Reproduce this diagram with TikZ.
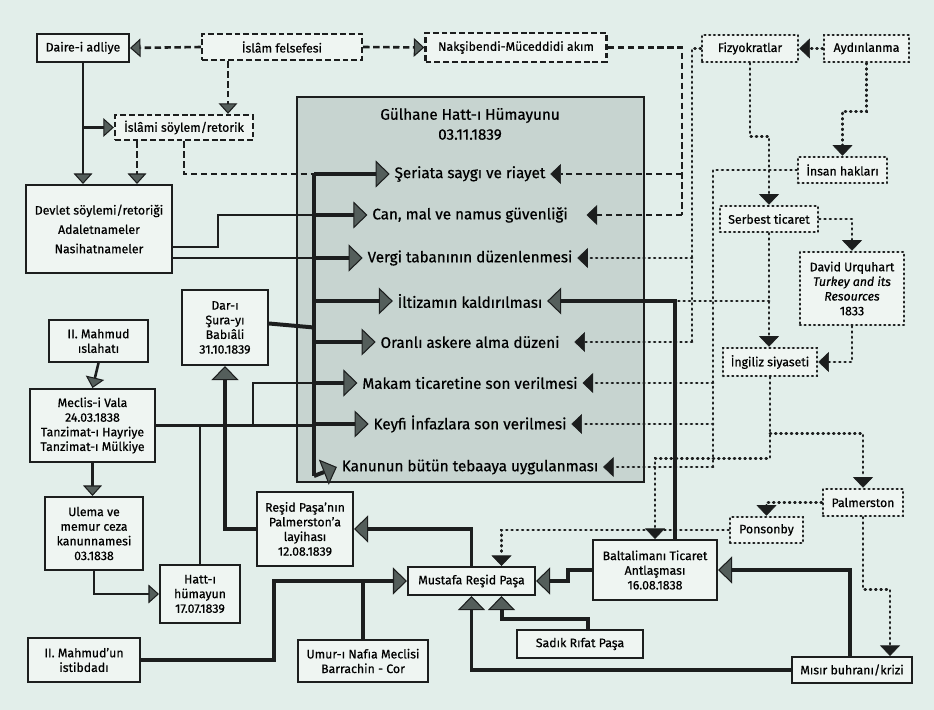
\documentclass[tikz,border=0pt]{standalone}
\usepackage{fontspec}
\setmainfont{Fira Sans}[FakeBold=0.6]
\usetikzlibrary{arrows.meta}

\definecolor{pagebg}{RGB}{226,238,234}
\definecolor{boxbg}{RGB}{239,245,242}
\definecolor{hattbg}{RGB}{199,212,208}
\definecolor{tipgray}{RGB}{84,94,91}
\definecolor{ink}{RGB}{28,30,30}

\newdimen\pxu \pxu=0.03cm

\tikzset{
    box/.style={draw=ink, line width=1.7pt, fill=boxbg, align=center, inner sep=1pt,
        font=\fontsize{10.5}{12.5}\selectfont},
    dashbox/.style={box, line width=2pt, dash pattern=on 5pt off 2.5pt},
    dotbox/.style={box, line cap=round, line width=2.2pt, dash pattern=on 0.7pt off 3.3pt},
    madde/.style={font=\fontsize{13}{15}\selectfont, inner xsep=4pt, inner ysep=1pt},
    strong/.style={draw=ink, line width=3.4pt},
    link/.style={draw=ink, line width=2.2pt},
    dashlink/.style={draw=ink, line width=2.2pt, dash pattern=on 5.5pt off 3pt},
    dotlink/.style={draw=ink, line width=2.3pt, line cap=round, dash pattern=on 0.8pt off 3.7pt},
    bigtip/.style={-{Triangle[length=12pt, width=23pt, fill=tipgray, line width=0.9pt]}},
    smalltip/.style={-{Triangle[length=9pt, width=16pt, fill=tipgray, line width=0.9pt]}},
    darktip/.style={-{Triangle[length=9pt, width=17pt, line width=0.5pt]}},
}

\begin{document}
\begin{tikzpicture}[x=0.03cm, y=-0.03cm]
    \fill[pagebg] (0,0) rectangle (934,710);
    \useasboundingbox (0,0) rectangle (934,710);
    % Gulhane Hatt-i Humayunu frame
    \draw[draw=ink, line width=1.3pt, fill=hattbg] (297,97) rectangle (644,482);
    \node[font=\fontsize{13}{17}\selectfont, align=center] (gulhane) at (470,124) {Gülhane Hatt-ı Hümayunu\\03.11.1839};

    % items of the edict
    \node[madde] (seriat) at (470,174) {Şeriata saygı ve riayet};
    \node[madde] (can) at (470,215) {Can, mal ve namus güvenliği};
    \node[madde] (vergi) at (470,258) {Vergi tabanının düzenlenmesi};
    \node[madde] (iltizam) at (470,301) {İltizamın kaldırılması};
    \node[madde] (oranli) at (470,342) {Oranlı askere alma düzeni};
    \node[madde] (makam) at (470,383) {Makam ticaretine son verilmesi};
    \node[madde] (keyfi) at (470,424) {Keyfi İnfazlara son verilmesi};
    \node[madde] (kanun) at (470,467) {Kanunun bütün tebaaya uygulanması};

    % top row
    \node[box, minimum width=92\pxu, minimum height=28\pxu] (daire) at (83,48) {Daire-i adliye};
    \node[dashbox, minimum width=160\pxu, minimum height=26\pxu] (felsefe) at (282,47) {İslâm felsefesi};
    \node[dashbox, minimum width=181\pxu, minimum height=29\pxu] (naksi) at (516,47.5) {Nakşibendi-Müceddidi akım};
    \node[dotbox, minimum width=96\pxu, minimum height=27\pxu] (fizyo) at (750,48.5) {Fizyokratlar};
    \node[dotbox, minimum width=85\pxu, minimum height=27\pxu] (aydin) at (866.5,48.5) {Aydınlanma};

    % left side
    \node[dashbox, minimum width=138\pxu, minimum height=25\pxu] (islamisoy) at (184,127.5) {İslâmi söylem/retorik};
    \node[box, minimum width=146\pxu, minimum height=88\pxu] (devlet) at (99,229) {Devlet söylemi/retoriği\\[4pt]Adaletnameler\\[4pt]Nasihatnameler};
    \node[box, minimum width=86\pxu, minimum height=75\pxu] (darusura) at (225,327.5) {Dar-ı\\Şura-yı\\Babıâli\\31.10.1839};
    \node[box, minimum width=99\pxu, minimum height=42\pxu] (mahmudisl) at (98.5,341) {II. Mahmud\\ıslahatı};
    \node[box, minimum width=125\pxu, minimum height=73\pxu] (meclis) at (92.5,425.5) {Meclis-i Vala\\24.03.1838\\Tanzimat-ı Hayriye\\Tanzimat-ı Mülkiye};
    \node[box, minimum width=98\pxu, minimum height=73\pxu] (ulema) at (94,533.5) {Ulema ve\\memur ceza\\kanunnamesi\\03.1838};
    \node[box, minimum width=80\pxu, minimum height=58\pxu] (hatt) at (200,594) {Hatt-ı\\hümayun\\17.07.1839};
    \node[box, minimum width=96\pxu, minimum height=74\pxu] (resid) at (305,529) {Reşid Paşa’nın\\Palmerston’a\\layihası\\12.08.1839};
    \node[box, minimum width=112\pxu, minimum height=44\pxu] (mahmudist) at (84,660) {II. Mahmud’un\\istibdadı};
    \node[box, minimum width=130\pxu, minimum height=42\pxu] (umur) at (363,661) {Umur-ı Nafıa Meclisi\\Barrachin - Cor};

    % bottom middle
    \node[box, minimum width=127\pxu, minimum height=28\pxu] (mustafa) at (471.5,581) {Mustafa Reşid Paşa};
    \node[box, minimum width=124\pxu, minimum height=60\pxu] (baltalimani) at (655,570) {Baltalimanı Ticaret\\Antlaşması\\16.08.1838};
    \node[box, minimum width=126\pxu, minimum height=28\pxu] (sadik) at (580,644) {Sadık Rıfat Paşa};
    \node[box, minimum width=120\pxu, minimum height=26\pxu] (misir) at (852,670) {Mısır buhranı/krizi};

    % right side
    \node[dotbox, minimum width=89\pxu, minimum height=26\pxu] (insan) at (842.5,170) {İnsan hakları};
    \node[dotbox, minimum width=98\pxu, minimum height=26\pxu] (serbest) at (769,219) {Serbest ticaret};
    \node[dotbox, minimum width=104\pxu, minimum height=73\pxu] (urquhart) at (852,288.5) {David Urquhart\\\textit{Turkey and its}\\\textit{Resources}\\1833};
    \node[dotbox, minimum width=94\pxu, minimum height=28\pxu] (ingiliz) at (770,362) {İngiliz siyaseti};
    \node[dotbox, minimum width=80\pxu, minimum height=27\pxu] (palmerston) at (863,502.5) {Palmerston};
    \node[dotbox, minimum width=73\pxu, minimum height=26\pxu] (ponsonby) at (766.5,530) {Ponsonby};

    \coordinate (bustop) at (314,174);
    \coordinate (busbot) at (314,476);
    \coordinate (nkbus) at (682,0);
    \coordinate (fzbus) at (692,0);
    \coordinate (ihbus) at (713,0);
    \coordinate (mecj) at (253,0);

    % solid links
    \draw[link, smalltip] (daire.south) -- (daire.south |- devlet.north);
    \draw[link, smalltip] (daire.south |- islamisoy.west) -- (islamisoy.west);
    \draw[link] ([yshift=-18\pxu]devlet.east) -| (218,215) -- (bustop |- can.west);
    \draw[link] ([yshift=-29\pxu]devlet.east) -- (bustop |- vergi.west);
    \draw[strong] ([yshift=4\pxu]darusura.east) -- (bustop |- darusura.east);
    \draw[link] (meclis.east) -- (bustop |- meclis.east);
    \draw[link] (mecj |- meclis.east) |- (bustop |- makam.west);
    \draw[link] (hatt.north) -- (hatt.north |- meclis.east);
    \draw[strong] (bustop) -- (busbot);
    \foreach \m in {seriat,can,vergi,iltizam,oranli,makam,keyfi}
        \draw[strong, bigtip] (bustop |- \m.west) -- (\m.west);
    \draw[strong, bigtip] (busbot) -- (kanun.west);

    \draw[strong, bigtip] (resid.west) -| (darusura.south);
    \draw[link, smalltip] (mahmudisl.south) -- (meclis.north);
    \draw[link, smalltip] (meclis.south) -- (meclis.south |- ulema.north);
    \draw[link, smalltip] (ulema.south) |- (hatt.west);

    \draw[strong, bigtip] (mustafa.north) |- (resid.east);
    \draw[strong, bigtip] (mahmudist.east) -| ([xshift=-133\pxu]mustafa.west) -- (mustafa.west);
    \draw[link, line width=2.6pt] (umur.north) -- (umur.north |- mustafa.west);
    \draw[strong, bigtip] (misir.west) -| (mustafa.south);
    \draw[strong, bigtip] ([xshift=8\pxu]sadik.north) -- ++(0,-10) -| ([xshift=30\pxu]mustafa.south);
    \draw[strong, bigtip] (baltalimani.west) -| ([xshift=32\pxu]mustafa.east) -- (mustafa.east);
    \draw[strong, bigtip] ([xshift=-2\pxu]misir.north) |- (baltalimani.east);
    \draw[strong, bigtip] ([xshift=20\pxu]baltalimani.north) |- (iltizam.east);

    % dashed links
    \draw[dashlink, smalltip] (felsefe.west) -- (daire.east);
    \draw[dashlink, smalltip] (felsefe.east) -- (naksi.west);
    \draw[dashlink, smalltip] ([xshift=-54\pxu]felsefe.south) -- ([xshift=-54\pxu]felsefe.south |- islamisoy.north);
    \draw[dashlink, smalltip] ([xshift=-47\pxu]islamisoy.south) -- ([xshift=-47\pxu]islamisoy.south |- devlet.north);
    \draw[dashlink] (islamisoy.south) |- (bustop);
    \draw[dashlink] (naksi.east) -| (nkbus |- can.east);
    \draw[dashlink, darktip] (nkbus |- seriat.east) -- (seriat.east);
    \draw[dashlink, darktip] (nkbus |- can.east) -- ([xshift=14\pxu]can.east);

    % dotted links
    \draw[dotlink, darktip] (aydin.west) -- (fizyo.east);
    \draw[dotlink, darktip] (aydin.south) -- ++(0,48) -| (insan.north);
    \draw[dotlink] (fizyo.west) -| (fzbus |- oranli.east);
    \draw[dotlink, darktip] (fzbus |- vergi.east) -- (vergi.east);
    \draw[dotlink, darktip] (fzbus |- oranli.east) -- ([xshift=10\pxu]oranli.east);
    \draw[dotlink, darktip] (fizyo.south) -- ++(0,73) -| (serbest.north);
    \draw[dotlink] (insan.west) -| (ihbus |- kanun.east);
    \foreach \m in {makam,keyfi,kanun}
        \draw[dotlink, darktip] (ihbus |- \m.east) -- (\m.east);
    \draw[dotlink, darktip] (serbest.east) -| (urquhart.north);
    \draw[dotlink, darktip] (serbest.south) -- (serbest.south |- ingiliz.north);
    \draw[dotlink] (serbest.south |- iltizam.east) -- ([xshift=20\pxu]baltalimani.north |- iltizam.east);
    \draw[dotlink, darktip] (urquhart.south) |- (ingiliz.east);
    \draw[dotlink, darktip] (ingiliz.south) -- ++(0,81) -| (baltalimani.north);
    \draw[dotlink, darktip] (ingiliz.south) ++(0,56) -| (palmerston.north);
    \draw[dotlink, darktip] (palmerston.west) -| (ponsonby.north);
    \draw[dotlink, darktip] (palmerston.south) -- ++(0,72) -| ([xshift=38\pxu]misir.north);
    \draw[dotlink, darktip] (ponsonby.west) -| ([xshift=30\pxu]mustafa.north);
\end{tikzpicture}
\end{document}
